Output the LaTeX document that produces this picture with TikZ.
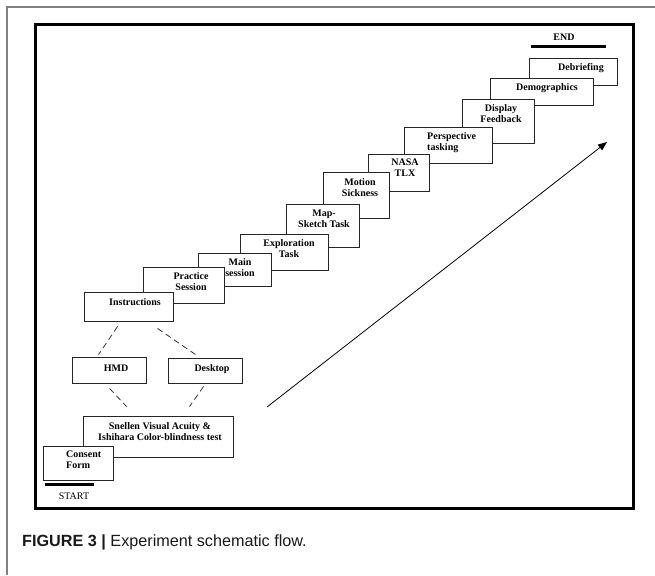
\documentclass[tikz,border=0pt]{standalone}
\usepackage{fontspec}
\setmainfont{Liberation Serif}
\newfontfamily\capfont{Liberation Sans}
\usetikzlibrary{fit,arrows.meta}
\begin{document}
\begin{tikzpicture}[x=1pt,y=-1pt,
  stepbox/.style={draw=black!85,line width=0.9pt,fill=white,inner sep=0pt,rectangle},
  lbl/.style={font=\fontsize{10}{11}\selectfont\bfseries,align=center,inner sep=0pt},
  lbll/.style={lbl,align=left,anchor=west},
  dashline/.style={draw=black!80,line width=0.8pt,dash pattern=on 6pt off 4pt},
  thickbar/.style={line width=3pt}]
\useasboundingbox (0,0) rectangle (655,575);
\draw[gray, line width=1.5pt] (7,575) -- (7,7) -- (655,7);
\node[draw, line width=3pt, fit={(35,25) (633,508)}, inner sep=0pt] (frame) {};
% END marker
\node[lbl] (endt) at (564,37) {END};
\coordinate (endl) at (531,47);
\coordinate (endr) at (606,47);
\draw[thickbar] (endl) -- (endr);
% steps, drawn from last to first so earlier steps lie on top
\node[stepbox, fit={(529,58) (617,85)}] (deb) {};
\node[lbl] at (581,68) {Debriefing};
\node[stepbox, fit={(490,78) (593,105)}] (demo) {};
\node[lbl] at (547,88) {Demographics};
\node[stepbox, fit={(462,99) (534,143)}] (disp) {};
\node[lbl] at (501,114) {Display\\Feedback};
\node[stepbox, fit={(404,127) (492,163)}] (persp) {};
\node[lbll] at (427,143) {Perspective\\tasking};
\node[stepbox, fit={(368,154) (429,191)}] (nasa) {};
\node[lbl] at (405,168) {NASA\\TLX};
\node[stepbox, fit={(323,172) (389,218)}] (motion) {};
\node[lbl] at (360,188) {Motion\\Sickness};
\node[stepbox, fit={(286,204) (359,247)}] (map) {};
\node[lbl] at (324,219) {Map-\\Sketch Task};
\node[stepbox, fit={(240,234) (328,270)}] (expl) {};
\node[lbl] at (289,249) {Exploration\\Task};
\node[stepbox, fit={(198,253) (271,286)}] (main) {};
\node[lbl] at (240,268) {Main\\session};
\node[stepbox, fit={(143,267) (224,303)}] (prac) {};
\node[lbl] at (191,282) {Practice\\Session};
\node[stepbox, fit={(84,292) (173,321)}] (instr) {};
\node[lbl] at (135,302) {Instructions};
\node[stepbox, fit={(72,357) (146,383)}] (hmd) {};
\node[lbl] at (116,368) {HMD};
\node[stepbox, fit={(168,358) (242,383)}] (desk) {};
\node[lbl] at (212,369) {Desktop};
\node[stepbox, fit={(83,416) (233,457)}] (snel) {};
\node[lbl] at (160,432) {Snellen Visual Acuity \&\\Ishihara Color-blindness test};
\node[stepbox, fit={(43,446) (113,480)}] (cons) {};
\node[lbll] at (66,460) {Consent\\Form};
% START marker
\coordinate (startl) at (45,484);
\coordinate (startr) at (94,484);
\draw[thickbar] (startl) -- (startr);
\node[font=\fontsize{10}{11}\selectfont, inner sep=0pt] (startt) at (74,496) {START};
% dashed connectors
\draw[dashline] ([xshift=34pt,yshift=-5pt]instr.south west) -- ([xshift=27pt,yshift=2pt]hmd.north west);
\draw[dashline] ([xshift=74pt,yshift=-7pt]instr.south west) -- ([xshift=28pt,yshift=3pt]desk.north west);
\draw[dashline] ([xshift=38pt,yshift=-5pt]hmd.south west) -- ([xshift=44pt,yshift=9pt]snel.north west);
\draw[dashline] ([xshift=36pt,yshift=-3pt]desk.south west) -- ([xshift=107pt,yshift=9pt]snel.north west);
% progress arrow
\coordinate (arrs) at (267,407);
\coordinate (arre) at (607,142);
\draw[line width=0.8pt, -{Triangle[length=9pt,width=7pt]}] (arrs) -- (arre);
% caption
\node[anchor=west, inner sep=0pt, text=black!90, font=\capfont\fontsize{16.2}{19}\selectfont] (cap) at (22,542) {\textbf{FIGURE 3 |} Experiment schematic flow.};
\end{tikzpicture}
\end{document}
